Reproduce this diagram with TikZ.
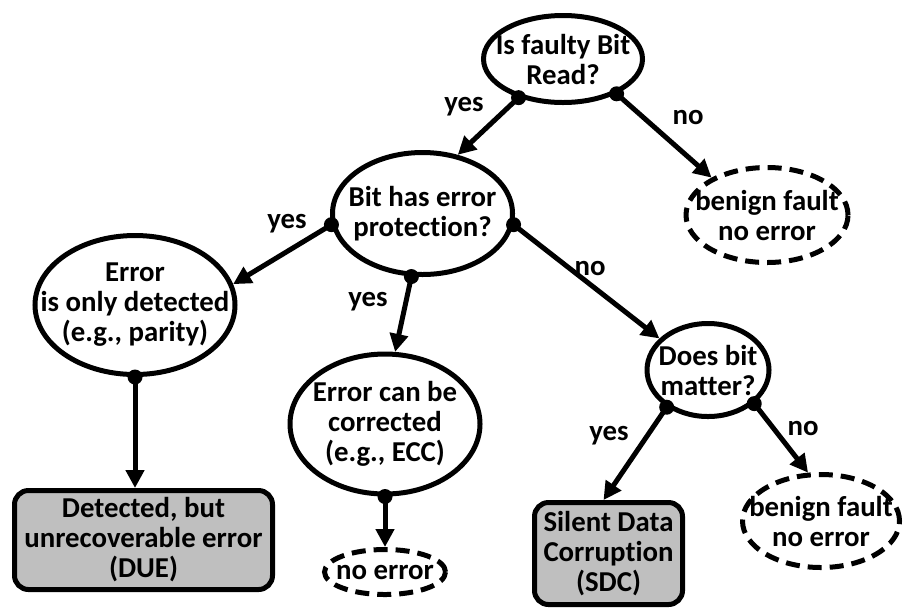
\documentclass[tikz,border=0pt]{standalone}
\usepackage{fontspec}
\setmainfont{Carlito}[Ligatures=NoCommon]
\usetikzlibrary{shapes.geometric,arrows.meta}
\definecolor{boxgray}{RGB}{191,191,191}
\begin{document}
\begin{tikzpicture}[x=0.5pt,y=-0.5pt,
  font=\bfseries\fontsize{14.4}{15}\selectfont,
  decision/.style={ellipse,draw,line width=2.5pt,inner sep=0pt},
  outcome/.style={decision,dash pattern=on 7pt off 4pt},
  result/.style={rectangle,draw,line width=2.5pt,rounded corners=7pt,fill=boxgray,
                 align=center,inner sep=0pt},
  txt/.style={label={[align=center]center:#1}},
  arr/.style={line width=2.5pt,-{Triangle[length=9pt,width=9pt]}},
  dot/.style={circle,fill=black,inner sep=0pt,minimum size=7.5pt},
  lbl/.style={inner sep=0pt}]
\useasboundingbox (0,0) rectangle (903,612);

% decision ellipses
\node[decision,minimum width=79.5pt,minimum height=43.5pt,txt={Is faulty Bit\\Read?}] (read) at (563,59) {};
\node[decision,minimum width=90pt,minimum height=61pt,txt={Bit has error\\protection?}] (prot) at (422.5,213.5) {};
\node[decision,minimum width=100pt,minimum height=69.5pt,txt={Error\\is only detected\\(e.g., parity)}] (det) at (135,305) {};
\node[decision,minimum width=95pt,minimum height=70pt,txt={Error can be\\corrected\\(e.g., ECC)}] (cor) at (385,424) {};
\node[decision,minimum width=61pt,minimum height=46.5pt,txt={Does bit\\matter?}] (matter) at (708,370) {};

% benign outcomes
\node[outcome,minimum width=81pt,minimum height=47.5pt,txt={benign fault\\no error}] (benA) at (767,215) {};
\node[outcome,minimum width=60.5pt,minimum height=22.5pt,txt={no error}] (noerr) at (385,572) {};
\node[outcome,minimum width=78.5pt,minimum height=46.5pt,txt={benign fault\\no error}] (benB) at (821,521) {};

% error outcomes
\node[result,minimum width=129pt,minimum height=49.5pt] (due) at (143.5,540) {Detected, but\\unrecoverable error\\(DUE)};
\node[result,minimum width=74pt,minimum height=51pt] (sdc) at (608.5,553.5) {Silent Data\\Corruption\\(SDC)};

% branch points
\node[dot] (r1) at (read.221) {};
\node[dot] (r2) at (read.-33) {};
\node[dot] (p1) at (prot.187) {};
\node[dot] (p2) at (prot.260) {};
\node[dot] (p3) at (prot.-7.5) {};
\node[dot] (d1) at (det.270) {};
\node[dot] (c1) at (cor.270) {};
\node[dot] (m1) at (matter.222) {};
\node[dot] (m2) at (matter.-36.5) {};

% connectors
\draw[arr] (r1.center) -- (prot.59);
\draw[arr] (r2.center) -- (benA.146);
\draw[arr] (p1.center) -- (det.12);
\draw[arr] (p2.center) -- (cor.82);
\draw[arr] (p3.center) -- (matter.147);
\draw[arr] (d1.center) -- (d1.center |- due.north);
\draw[arr] (c1.center) -- (c1.center |- noerr.north);
\draw[arr] (m1.center) -- ([xshift=-2.5pt]sdc.north);
\draw[arr] (m2.center) -- (benB.105);

% branch labels
\node[lbl] (yes1) at (464,107) {yes};
\node[lbl] (no1) at (688,118) {no};
\node[lbl] (yes2) at (287,224) {yes};
\node[lbl] (yes3) at (368,302) {yes};
\node[lbl] (no2) at (590,268) {no};
\node[lbl] (yes4) at (609,436) {yes};
\node[lbl] (no3) at (803,428) {no};
\end{tikzpicture}
\end{document}
